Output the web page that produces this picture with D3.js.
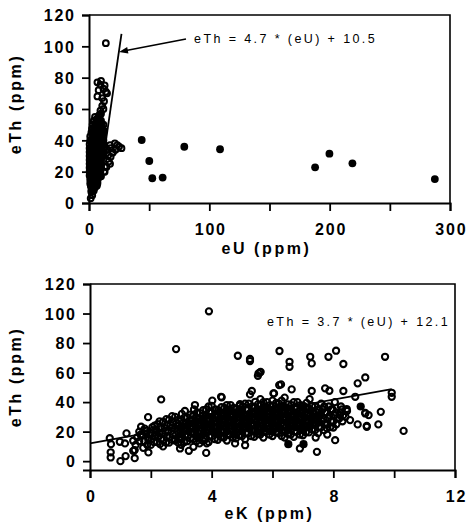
<!DOCTYPE html>
<html>
<head>
<meta charset="utf-8">
<script src="https://cdn.jsdelivr.net/npm/d3@7"></script>
<style>
  body { margin: 0; background: #fff; }
  svg { display: block; }
  .tick-label { font: bold 16px "Liberation Sans", Arial, sans-serif; letter-spacing: 1.8px; fill: #000; }
  .axis-title { font: bold 16px "Liberation Sans", Arial, sans-serif; letter-spacing: 2.6px; fill: #000; }
  .eq { font: 12.5px "Liberation Sans", Arial, sans-serif; letter-spacing: 2.4px; fill: #000; }
</style>
</head>
<body>
<svg id="chart" width="466" height="526"></svg>
<script>
// ---- top panel: eTh vs eU ----
const uTicks = [0, 50, 100, 150, 200, 250, 300];
const uLabels = [0, 100, 200, 300];
const thTicks = [0, 20, 40, 60, 80, 100, 120];

// open circles (eU, eTh)
const topOpen = [
  [14, 102],
  [7, 77], [9.5, 75.5], [8, 72], [12, 73], [14, 71], [7, 68], [11, 67], [15, 70], [10, 78], [13, 75],
  [12.5, 65], [11, 62], [9.5, 59], [8.5, 56], [7, 54], [12, 60], [10, 57],
  [23.5, 37], [22, 34], [19.5, 32], [18, 29.5], [16.5, 26.5], [14.5, 23], [12.5, 20], [10, 17], [7, 13.5],
  [21.5, 38], [17.5, 37], [20, 32.5], [16, 30.5], [17.5, 25], [13, 23], [13, 20], [9, 16.8],
  [25, 36], [27, 35], [15, 34], [18, 35],
  [2.7, 5], [1.4, 3], [3.5, 8], [2, 7], [4, 10],
  [2, 10], [5, 10],
  [1, 12.5], [4, 12.5], [7, 12.5],
  [1, 15], [4, 15], [7, 15],
  [0.5, 17.5], [3.5, 17.5], [6.5, 17.5], [9, 17.5],
  [0.5, 20], [3.5, 20], [6.5, 20], [9.5, 20],
  [0.5, 22.5], [3.5, 22.5], [6.5, 22.5], [9.5, 22.5],
  [0.5, 25], [3.5, 25], [6.5, 25], [10, 25],
  [0.5, 27.5], [3.5, 27.5], [6.5, 27.5], [10, 27.5],
  [0.5, 30], [3.5, 30], [6.5, 30], [10, 30], [12, 30],
  [0.5, 32.5], [3.5, 32.5], [6.5, 32.5], [10, 32.5], [12.5, 32.5],
  [0.5, 35], [3.5, 35], [6.5, 35], [10, 35], [12.5, 35],
  [0.5, 37.5], [3.5, 37.5], [6.5, 37.5], [10, 37.5], [12, 37.5],
  [1, 40], [4, 40], [7, 40], [10, 40], [12, 40],
  [1, 42.5], [4, 42.5], [7, 42.5], [10, 42.5],
  [2, 45], [5, 45], [8, 45], [11, 45],
  [2.5, 47.5], [5.5, 47.5], [8.5, 47.5], [11, 47.5],
  [3, 50], [6, 50], [9, 50], [12, 50],
  [4, 52.5], [7, 52.5], [10, 52.5],
  [5, 55], [8, 55]
];
// filled circles (eU, eTh)
const topFilled = [
  [2, 8], [4, 8],
  [1.5, 11], [4, 11], [6.5, 11],
  [1.5, 14], [4, 14], [6.5, 14],
  [1.5, 17], [4.5, 17], [7.5, 17],
  [1.5, 20], [4.5, 20], [7.5, 20],
  [1.5, 23], [4.5, 23], [7.5, 23], [10, 23],
  [1.5, 26], [4.5, 26], [7.5, 26], [10, 26],
  [1.5, 29], [4.5, 29], [7.5, 29], [10.5, 29],
  [1.5, 32], [4.5, 32], [7.5, 32], [10.5, 32],
  [1.5, 35], [4.5, 35], [7.5, 35], [10.5, 35],
  [2, 38], [5, 38], [8, 38], [10.5, 38],
  [2.5, 41], [5.5, 41], [8.5, 41], [11, 41],
  [3, 44], [6, 44], [9, 44], [11.5, 44],
  [4, 47], [7, 47], [10, 47], [12.5, 46],
  [5, 50], [8, 50], [10.5, 50],
  [6, 53], [9, 53],
  [43.8, 40.2], [50.1, 26.8], [52.6, 15.8], [61.2, 16.2], [79.2, 35.9], [108.9, 34.3],
  [187.9, 22.8], [199.8, 31.5], [218.9, 25.3], [287.4, 15.3]
];
const topFitLine = [[8.5, 10.5], [27, 108]];
const topArrow = [[80.6, 104.7], [24.9, 96.4]];
const topEq = { text: 'eTh = 4.7 * (eU) + 10.5', x: 87.3, y: 102 };

// ---- bottom panel: eTh vs eK ----
const kTicks = [0, 2, 4, 6, 8, 10, 12];
const kLabels = [0, 4, 8, 12];

const botOpen = [
  // scattered
  [3.91, 101.5], [2.83, 75.9], [4.86, 71.4], [5.26, 67.8], [5.26, 69.2], [5.59, 60.1], [5.52, 57.8],
  [6.23, 74.6], [6.22, 51.5], [5.32, 47.5], [5.26, 45.2], [6.03, 45.9], [4.33, 43.2], [2.34, 41.8],
  [4.31, 43.6], [1.91, 29.8], [1.68, 23.3], [1.86, 18.8], [3.45, 38], [3.40, 31.2], [4.0, 37.5],
  [4.93, 38.6], [5.43, 40.2], [6.56, 67.3], [6.56, 63.9], [7.24, 70.7], [7.29, 66.2], [7.84, 70.7],
  [8.09, 74.8], [8.33, 65.8], [9.05, 56.7], [8.8, 52.7], [8.33, 47.5], [7.73, 49.3], [7.87, 47.7],
  [7.29, 47.5], [6.28, 52], [6.63, 48.6], [6.05, 45.9], [8.72, 43.6], [8.44, 35.3], [9.05, 32.3],
  [8.55, 27.8], [8.8, 24.9], [9.1, 23.3], [8.22, 31.2], [8.0, 22.8], [7.79, 22.2], [8.06, 14.2],
  [7.46, 6.3], [6.9, 8.6], [9.7, 70.7], [9.92, 46.3], [9.92, 43.6], [9.05, 32.7], [9.16, 31.2],
  [9.56, 33.4], [9.1, 23.9], [9.48, 24.9], [10.31, 20.5], [5.54, 59.5], [5.61, 60.5],
  [3.84, 12], [3.25, 7], [2.96, 8.6], [2.8, 14.7], [2.16, 19.4], [1.92, 14.2], [1.92, 5.9],
  [1.42, 7], [1.42, 13.8], [1.15, 12], [1.2, 18.8], [0.69, 11.5], [0.68, 6], [0.68, 2.5],
  [1.0, 0], [1.17, 3.4], [1.47, 2], [1.47, 7.5], [0.98, 13.1], [0.65, 15.5], [3.82, 5.6],
  [3.40, 9.7], [4.77, 12], [5.1, 10.8],
  // dense band
  [1.5, 11], [1.55, 16], [1.62, 20],
  [1.75, 9], [1.78, 13.5], [1.72, 17.5], [1.8, 22],
  [2.0, 11], [2.03, 15], [1.98, 19], [2.05, 23],
  [2.2, 13], [2.25, 17], [2.18, 21], [2.22, 25],
  [2.4, 10], [2.42, 14.5], [2.38, 18.5], [2.45, 22.5], [2.4, 26.5],
  [2.6, 12.5], [2.62, 16.5], [2.58, 20.5], [2.65, 24.5], [2.6, 28],
  [2.8, 14], [2.82, 18], [2.78, 22], [2.85, 26], [2.8, 30],
  [3.0, 11], [3.02, 15.5], [2.98, 19.5], [3.05, 23.5], [3.0, 27.5], [3.02, 32],
  [3.2, 13.5], [3.22, 17.5], [3.18, 21.5], [3.25, 25.5], [3.2, 29.5],
  [3.4, 15], [3.42, 19], [3.38, 23], [3.45, 27], [3.4, 31], [3.42, 35],
  [3.6, 12], [3.62, 16.5], [3.58, 20.5], [3.65, 24.5], [3.6, 28.5], [3.62, 32.5],
  [3.8, 15], [3.82, 19], [3.78, 23], [3.85, 27], [3.8, 31], [3.82, 35],
  [4.0, 17], [4.02, 21], [3.98, 25], [4.05, 29], [4.0, 33], [4.02, 41],
  [4.2, 14.5], [4.22, 18.5], [4.18, 22.5], [4.25, 26.5], [4.2, 30.5], [4.22, 34.5],
  [4.4, 16], [4.42, 20], [4.38, 24], [4.45, 28], [4.4, 32], [4.42, 36],
  [4.6, 18], [4.62, 22], [4.58, 26], [4.65, 30], [4.6, 34], [4.62, 38],
  [4.8, 15.5], [4.82, 19.5], [4.78, 23.5], [4.85, 27.5], [4.8, 31.5], [4.82, 35.5],
  [5.0, 17], [5.02, 21], [4.98, 25], [5.05, 29], [5.0, 33], [5.02, 37],
  [5.2, 19], [5.22, 23], [5.18, 27], [5.25, 31], [5.2, 35], [5.22, 39],
  [5.4, 16.5], [5.42, 20.5], [5.38, 24.5], [5.45, 28.5], [5.4, 32.5], [5.42, 36.5],
  [5.6, 18], [5.62, 22], [5.58, 26], [5.65, 30], [5.6, 34], [5.62, 38], [5.6, 42],
  [5.8, 20], [5.82, 24], [5.78, 28], [5.85, 32], [5.8, 36], [5.82, 40],
  [6.0, 17], [6.02, 21.5], [5.98, 25.5], [6.05, 29.5], [6.0, 33.5], [6.02, 37.5], [6.0, 41],
  [6.2, 19], [6.22, 23], [6.18, 27], [6.25, 31], [6.2, 35], [6.22, 39],
  [6.4, 16], [6.42, 20.5], [6.38, 24.5], [6.45, 28.5], [6.4, 32.5], [6.42, 36.5], [6.4, 43],
  [6.6, 18], [6.62, 22], [6.58, 26], [6.65, 30], [6.6, 34], [6.62, 38],
  [6.8, 20], [6.82, 24], [6.78, 28], [6.85, 32], [6.8, 36], [6.82, 40],
  [7.0, 17.5], [7.02, 21.5], [6.98, 25.5], [7.05, 29.5], [7.0, 33.5], [7.02, 37.5],
  [7.2, 19.5], [7.22, 23.5], [7.18, 27.5], [7.25, 31.5], [7.2, 35.5], [7.22, 42],
  [7.4, 21], [7.42, 25], [7.38, 29], [7.45, 33], [7.4, 37], [7.42, 16],
  [7.6, 23], [7.62, 27], [7.58, 31], [7.65, 35], [7.6, 39],
  [7.8, 25], [7.82, 29], [7.78, 33], [7.85, 37], [7.8, 18],
  [8.0, 27], [8.02, 31], [7.98, 35], [8.05, 40],
  [8.2, 29], [8.22, 33], [8.25, 37],
  [8.4, 30], [8.45, 34],
  // second pass through the band, between the first
  [1.62, 13.5], [1.66, 18],
  [1.88, 11], [1.92, 15.5], [1.86, 20.5],
  [2.1, 13], [2.13, 17], [2.08, 21], [2.12, 24],
  [2.3, 11.5], [2.33, 15], [2.28, 19], [2.31, 23], [2.29, 27],
  [2.5, 12.5], [2.52, 16.5], [2.48, 20.5], [2.53, 24.5], [2.51, 28.5],
  [2.7, 14.5], [2.72, 18.5], [2.68, 22.5], [2.73, 26.5], [2.7, 30.5],
  [2.9, 12.5], [2.93, 16], [2.88, 20], [2.92, 24], [2.9, 28],
  [3.1, 13], [3.12, 17.5], [3.08, 21.5], [3.13, 25.5], [3.1, 29.5], [3.12, 34],
  [3.3, 15.5], [3.32, 19.5], [3.28, 23.5], [3.33, 27.5], [3.3, 31.5],
  [3.5, 13.5], [3.52, 17], [3.48, 21], [3.53, 25], [3.5, 29], [3.52, 33],
  [3.7, 14], [3.72, 18.5], [3.68, 22.5], [3.73, 26.5], [3.7, 30.5], [3.72, 34.5],
  [3.9, 13], [3.92, 17], [3.88, 21], [3.93, 25], [3.9, 29], [3.92, 33], [3.9, 37],
  [4.1, 15], [4.12, 19], [4.08, 23], [4.13, 27], [4.1, 31], [4.12, 35],
  [4.3, 16.5], [4.32, 20.5], [4.28, 24.5], [4.33, 28.5], [4.3, 32.5], [4.32, 36.5],
  [4.5, 14], [4.52, 18], [4.48, 22], [4.53, 26], [4.5, 30], [4.52, 34], [4.5, 38],
  [4.7, 16], [4.72, 20], [4.68, 24], [4.73, 28], [4.7, 32], [4.72, 36],
  [4.9, 17.5], [4.92, 21.5], [4.88, 25.5], [4.93, 29.5], [4.9, 33.5], [4.92, 37.5],
  [5.1, 15], [5.12, 19], [5.08, 23], [5.13, 27], [5.1, 31], [5.12, 35], [5.1, 39],
  [5.3, 17], [5.32, 21], [5.28, 25], [5.33, 29], [5.3, 33], [5.32, 37],
  [5.5, 18.5], [5.52, 22.5], [5.48, 26.5], [5.53, 30.5], [5.5, 34.5], [5.52, 38.5],
  [5.7, 16], [5.72, 20], [5.68, 24], [5.73, 28], [5.7, 32], [5.72, 36], [5.7, 40],
  [5.9, 18], [5.92, 22], [5.88, 26], [5.93, 30], [5.9, 34], [5.92, 38],
  [6.1, 19.5], [6.12, 23.5], [6.08, 27.5], [6.13, 31.5], [6.1, 35.5], [6.12, 39.5],
  [6.3, 17], [6.32, 21], [6.28, 25], [6.33, 29], [6.3, 33], [6.32, 37], [6.3, 41],
  [6.5, 18.5], [6.52, 22.5], [6.48, 26.5], [6.53, 30.5], [6.5, 34.5], [6.52, 38.5],
  [6.7, 16.5], [6.72, 20], [6.68, 24], [6.73, 28], [6.7, 32], [6.72, 36], [6.7, 40],
  [6.9, 18], [6.92, 22], [6.88, 26], [6.93, 30], [6.9, 34], [6.92, 38],
  [7.1, 19.5], [7.12, 23.5], [7.08, 27.5], [7.13, 31.5], [7.1, 35.5], [7.12, 39.5],
  [7.3, 21.5], [7.32, 25.5], [7.28, 29.5], [7.33, 33.5], [7.3, 37.5],
  [7.5, 19], [7.52, 23], [7.48, 27], [7.53, 31], [7.5, 35],
  [7.7, 21], [7.72, 25], [7.68, 29], [7.73, 33], [7.7, 37],
  [7.9, 23], [7.92, 27], [7.88, 31], [7.93, 35],
  [8.1, 25], [8.12, 29], [8.08, 33],
  [8.3, 27], [8.32, 31], [8.28, 35]
];
// filled circles (eK, eTh): the few separate ones, plus those buried in the dense core
const botFilled = [
  [8.9, 37], [6.52, 11.5], [7.02, 11.5],
  [3.0, 18], [3.0, 23],
  [3.25, 20], [3.25, 25],
  [3.5, 17], [3.5, 22], [3.5, 27],
  [3.75, 19], [3.75, 24], [3.75, 29],
  [4.0, 20], [4.0, 25], [4.0, 30],
  [4.25, 18], [4.25, 23], [4.25, 28], [4.25, 33],
  [4.5, 20], [4.5, 25], [4.5, 30], [4.5, 35],
  [4.75, 18], [4.75, 23], [4.75, 28], [4.75, 33],
  [5.0, 20], [5.0, 25], [5.0, 30], [5.0, 35],
  [5.25, 22], [5.25, 27], [5.25, 32],
  [5.5, 20], [5.5, 25], [5.5, 30], [5.5, 35],
  [5.75, 22], [5.75, 27], [5.75, 32], [5.75, 37],
  [6.0, 20], [6.0, 25], [6.0, 30], [6.0, 35],
  [6.25, 22], [6.25, 27], [6.25, 32], [6.25, 37],
  [6.5, 21], [6.5, 26], [6.5, 31], [6.5, 36],
  [6.75, 23], [6.75, 28], [6.75, 33],
  [7.0, 21], [7.0, 26], [7.0, 31], [7.0, 36],
  [7.25, 24], [7.25, 29], [7.25, 34],
  [7.5, 26], [7.5, 31]
];
const botFit = { slope: 3.7, intercept: 12.1, from: 0, to: 9.92 };
const botEq = { text: 'eTh = 3.7 * (eU) + 12.1', x: 5.82, y: 91.5 };

const svg = d3.select('#chart');

function drawPanel (cfg) {
    let x = d3.scaleLinear().domain(cfg.xDomain).range([cfg.left, cfg.right]);
    let y = d3.scaleLinear().domain(cfg.yDomain).range([cfg.bottom, cfg.top]);
    let g = svg.append('g');

    // frame: top + right border
    g.append('path')
        .attr('d', `M${cfg.left},${cfg.top}H${cfg.right}V${cfg.bottom}`)
        .attr('fill', 'none')
        .attr('stroke', '#000')
        .attr('stroke-width', 1.6);

    let yAxis = g.append('g')
        .attr('transform', `translate(${cfg.left},0)`)
        .call(d3.axisLeft(y).tickValues(cfg.yTicks).tickSize(7).tickPadding(8).tickFormat(d3.format('d')));
    yAxis.select('.domain').attr('stroke-width', 2);
    yAxis.selectAll('.tick line').attr('stroke-width', 1.8);
    yAxis.selectAll('.tick text')
        .attr('class', 'tick-label')
        .attr('dx', '1.8px')
        .attr('dy', '0.36em');

    let xAxis = g.append('g')
        .attr('transform', `translate(0,${cfg.bottom})`)
        .call(d3.axisBottom(x).tickValues(cfg.xTicks).tickSize(8)
            .tickFormat(d => cfg.xLabels.includes(d) ? d : ''));
    xAxis.select('.domain').attr('stroke-width', 2);
    xAxis.selectAll('.tick line').attr('stroke-width', 1.8);
    xAxis.selectAll('.tick text')
        .attr('class', 'tick-label')
        .attr('y', 32)
        .attr('dy', 0)
        .attr('dx', '0.9px');
    yAxis.attr('font-size', null).attr('font-family', null);
    xAxis.attr('font-size', null).attr('font-family', null);
    g.selectAll('.domain').attr('stroke', '#000');
    g.selectAll('.tick line').attr('stroke', '#000');
    g.selectAll('.tick text').attr('fill', '#000');

    // axis titles
    g.append('text')
        .attr('class', 'axis-title')
        .attr('x', (cfg.left + cfg.right) / 2 - 3)
        .attr('y', cfg.bottom + cfg.xTitleDy)
        .attr('text-anchor', 'middle')
        .text(cfg.xTitle);
    g.append('text')
        .attr('class', 'axis-title')
        .attr('transform', `translate(21,${cfg.yTitleY}) rotate(-90)`)
        .attr('text-anchor', 'middle')
        .text(cfg.yTitle);

    // open markers: outline only, so piled-up points go dark as in the print
    g.append('g').selectAll('circle')
        .data(cfg.open)
        .join('circle')
            .attr('cx', d => x(d[0]))
            .attr('cy', d => y(d[1]))
            .attr('r', cfg.r)
            .attr('fill', 'none')
            .attr('stroke', '#000')
            .attr('stroke-width', cfg.sw);

    // filled markers
    g.append('g').selectAll('circle')
        .data(cfg.filled)
        .join('circle')
            .attr('cx', d => x(d[0]))
            .attr('cy', d => y(d[1]))
            .attr('r', cfg.r + 1)
            .attr('fill', '#000');

    // fit line, over the markers
    g.append('path')
        .attr('d', d3.line().x(d => x(d[0])).y(d => y(d[1]))(cfg.fit))
        .attr('fill', 'none')
        .attr('stroke', '#000')
        .attr('stroke-width', 1.8);

    // equation
    g.append('text')
        .attr('class', 'eq')
        .attr('x', x(cfg.eq.x))
        .attr('y', y(cfg.eq.y))
        .text(cfg.eq.text);

    return {x, y, g};
}

let topPanel = drawPanel({
    left: 89, right: 450, top: 15, bottom: 203,
    xDomain: [0, 300], yDomain: [0, 120],
    xTicks: uTicks, xLabels: uLabels, yTicks: thTicks,
    xTitle: 'eU (ppm)', yTitle: 'eTh (ppm)', xTitleDy: 51, yTitleY: 104,
    open: topOpen, filled: topFilled, r: 2.9, sw: 2,
    fit: topFitLine, eq: topEq
});

// arrow from the equation to the fit line
let a0 = topArrow[0], a1 = topArrow[1];
let ax0 = topPanel.x(a0[0]), ay0 = topPanel.y(a0[1]), ax1 = topPanel.x(a1[0]), ay1 = topPanel.y(a1[1]);
let ang = Math.atan2(ay1 - ay0, ax1 - ax0);
topPanel.g.append('line')
    .attr('x1', ax0).attr('y1', ay0)
    .attr('x2', ax1 - 6 * Math.cos(ang)).attr('y2', ay1 - 6 * Math.sin(ang))
    .attr('stroke', '#000').attr('stroke-width', 1.6);
topPanel.g.append('path')
    .attr('d', `M0,0L-9,-3.2L-9,3.2Z`)
    .attr('transform', `translate(${ax1},${ay1}) rotate(${ang * 180 / Math.PI})`)
    .attr('fill', '#000');

let botPanel = drawPanel({
    left: 90, right: 455, top: 284, bottom: 470,
    xDomain: [0, 12], yDomain: [-6, 120],
    xTicks: kTicks, xLabels: kLabels, yTicks: thTicks,
    xTitle: 'eK (ppm)', yTitle: 'eTh (ppm)', xTitleDy: 49, yTitleY: 377,
    open: botOpen, filled: botFilled, r: 3.1, sw: 2.1,
    fit: [[botFit.from, botFit.intercept + botFit.slope * botFit.from],
          [botFit.to, botFit.intercept + botFit.slope * botFit.to]],
    eq: botEq
});
</script>
</body>
</html>
